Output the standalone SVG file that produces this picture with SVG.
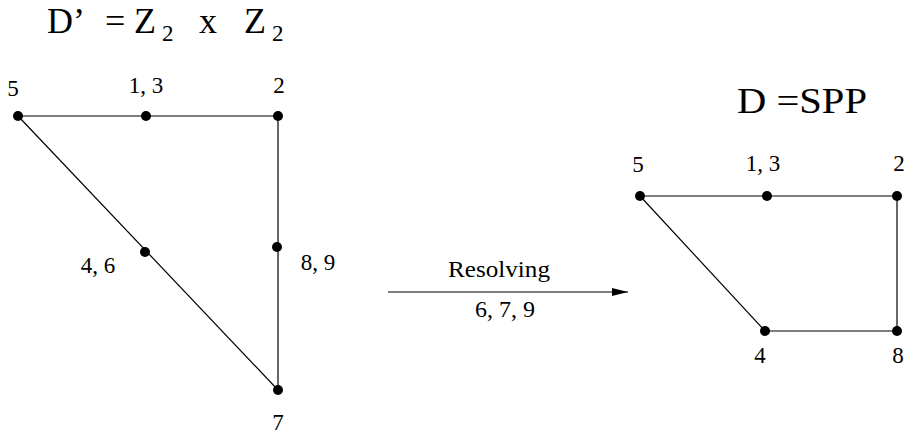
<svg xmlns="http://www.w3.org/2000/svg" width="906" height="437" viewBox="0 0 906 437">
<style>
text{font-family:"Liberation Serif","Times New Roman","DejaVu Serif",serif;fill:#000}
.lb{font-size:23px}
.ttl{font-size:36px}
.e{stroke:#000;stroke-width:1.2;fill:none}
.n{fill:#000}
</style>
<defs>
<marker id="ah" viewBox="0 0 16 8" refX="16" refY="4" markerWidth="16" markerHeight="8" markerUnits="userSpaceOnUse" orient="auto">
<path d="M0,0 L16,4 L0,8 Z" fill="#000"/>
</marker>
</defs>
<text class="ttl" x="47" y="33">D’</text>
<text class="ttl" x="105" y="33">=</text>
<text class="ttl" x="134" y="33">Z</text>
<text x="162" y="41" font-size="23">2</text>
<text class="ttl" x="199" y="33">x</text>
<text class="ttl" x="244" y="33">Z</text>
<text x="272" y="41" font-size="23">2</text>
<text class="ttl" x="737" y="113" textLength="130" lengthAdjust="spacingAndGlyphs">D =SPP</text>
<g id="connectors">
<line class="e" x1="18" y1="116" x2="278" y2="116"/>
<line class="e" x1="278" y1="116" x2="278" y2="390"/>
<line class="e" x1="18" y1="116" x2="278" y2="390"/>
<line class="e" x1="640" y1="196" x2="897" y2="196"/>
<line class="e" x1="897" y1="196" x2="897" y2="331"/>
<line class="e" x1="765" y1="331" x2="897" y2="331"/>
<line class="e" x1="640" y1="196" x2="765" y2="331"/>
<line class="e" x1="388" y1="292" x2="628" y2="292" marker-end="url(#ah)"/>
<text x="499" y="277" font-size="24" text-anchor="middle" textLength="102" lengthAdjust="spacingAndGlyphs">Resolving</text>
<text x="505" y="317" font-size="24" text-anchor="middle">6, 7, 9</text>
</g>
<g id="L5"><circle class="n" cx="18" cy="116" r="5"/><text class="lb" x="13" y="96" text-anchor="middle">5</text></g>
<g id="L13"><circle class="n" cx="146" cy="116" r="5"/><text class="lb" x="146" y="93" text-anchor="middle">1, 3</text></g>
<g id="L2"><circle class="n" cx="278" cy="116" r="5"/><text class="lb" x="279" y="93" text-anchor="middle">2</text></g>
<g id="L46"><circle class="n" cx="145" cy="252" r="5"/><text class="lb" x="98" y="273" text-anchor="middle">4, 6</text></g>
<g id="L89"><circle class="n" cx="277" cy="247" r="5"/><text class="lb" x="318" y="270" text-anchor="middle">8, 9</text></g>
<g id="L7"><circle class="n" cx="278" cy="390" r="5"/><text class="lb" x="278" y="430" text-anchor="middle">7</text></g>
<g id="R5"><circle class="n" cx="640" cy="196" r="5"/><text class="lb" x="638" y="172" text-anchor="middle">5</text></g>
<g id="R13"><circle class="n" cx="767" cy="196" r="5"/><text class="lb" x="763" y="171" text-anchor="middle">1, 3</text></g>
<g id="R2"><circle class="n" cx="897" cy="196" r="5"/><text class="lb" x="899" y="171" text-anchor="middle">2</text></g>
<g id="R4"><circle class="n" cx="765" cy="331" r="5"/><text class="lb" x="760" y="363" text-anchor="middle">4</text></g>
<g id="R8"><circle class="n" cx="897" cy="331" r="5"/><text class="lb" x="898" y="363" text-anchor="middle">8</text></g>
</svg>
